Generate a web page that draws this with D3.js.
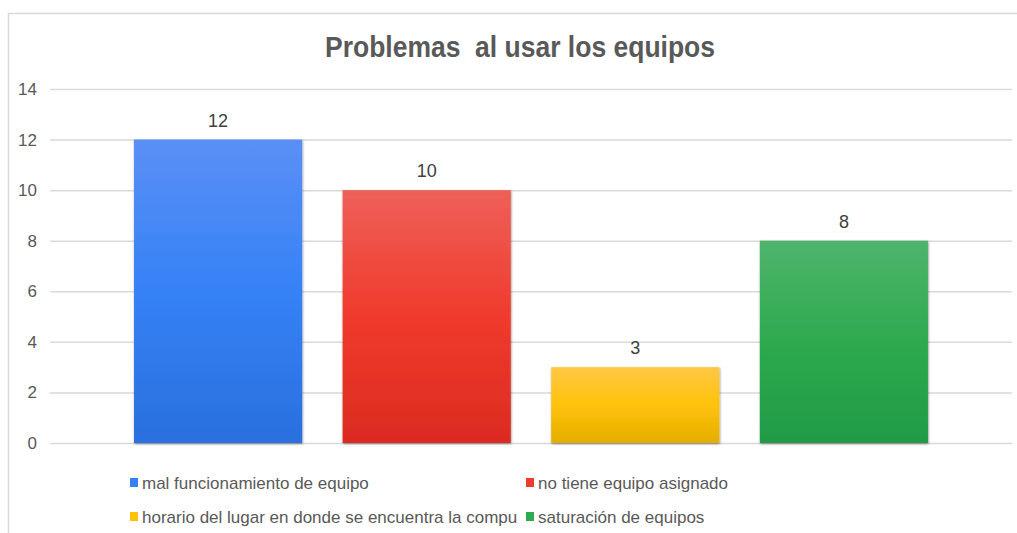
<!DOCTYPE html>
<html>
<head>
<meta charset="utf-8">
<script src="https://cdn.jsdelivr.net/npm/d3@7"></script>
<style>
  body { margin: 0; background: #fff; }
  text { font-family: "Liberation Sans", Arial, sans-serif; }
</style>
</head>
<body>
<div id="chart"></div>
<script>
// data
const categories = ["mal funcionamiento de equipo", "no tiene equipo asignado",
                    "horario del lugar en donde se encuentra la compu", "saturación de equipos"]
const values = [12, 10, 3, 8]
const yTicks = [0, 2, 4, 6, 8, 10, 12, 14]
// gradient stops per bar: top, middle, bottom
const barColors = [
    ["#5b8ff5", "#3582f6", "#2a6fde"],
    ["#ee6058", "#ef3b2d", "#dc2b20"],
    ["#ffc845", "#ffc20a", "#e4ad00"],
    ["#4fb46b", "#2eaa4f", "#229b47"]
]

const width = 1017
const height = 533

const svg = d3.select("#chart").append("svg")
    .attr("width", width)
    .attr("height", height)

const defs = svg.append("defs")
barColors.forEach((c, i) => {
    const g = defs.append("linearGradient")
        .attr("id", "grad" + i)
        .attr("x1", 0).attr("y1", 0).attr("x2", 0).attr("y2", 1)
    g.append("stop").attr("offset", "0%").attr("stop-color", c[0])
    g.append("stop").attr("offset", "50%").attr("stop-color", c[1])
    g.append("stop").attr("offset", "100%").attr("stop-color", c[2])
})
const shadow = defs.append("filter").attr("id", "shadow")
    .attr("x", "-10%").attr("y", "-10%").attr("width", "120%").attr("height", "120%")
shadow.append("feDropShadow")
    .attr("dx", 0.5).attr("dy", 1).attr("stdDeviation", 1.2)
    .attr("flood-color", "#000").attr("flood-opacity", 0.45)

// chart frame
svg.append("rect")
    .attr("x", 8.5).attr("y", 13.5)
    .attr("width", 1020).attr("height", 540)
    .attr("fill", "#fff")
    .attr("stroke", "#d9d9d9")
    .attr("stroke-width", 1.5)

// title (two spaces after the first word, as in the original)
svg.append("text")
    .attr("x", 325).attr("y", 57)
    .attr("textLength", 390)
    .attr("lengthAdjust", "spacingAndGlyphs")
    .style("font-size", "30px")
    .style("font-weight", "bold")
    .style("white-space", "pre")
    .attr("fill", "#595959")
    .text("Problemas  al usar los equipos")

const x = d3.scaleBand()
    .domain(categories)
    .range([114, 948])
    .paddingInner(0.194)
    .paddingOuter(0.096)

const y = d3.scaleLinear()
    .domain([0, 14])
    .range([443, 89])

// gridlines + y labels
const yAxis = svg.append("g")
    .attr("transform", "translate(50,0)")
    .call(d3.axisLeft(y).tickValues(yTicks).tickSize(-962).tickPadding(13))
yAxis.select(".domain").remove()
yAxis.selectAll(".tick line").attr("stroke", "#d9d9d9").attr("stroke-width", 1.5)
yAxis.selectAll(".tick text")
    .attr("fill", "#595959")
    .style("font-size", "17px")
    .style("font-family", "'Liberation Sans', Arial, sans-serif")

// bars
svg.selectAll("rect.bar")
    .data(values)
    .enter().append("rect")
    .attr("class", "bar")
    .attr("x", (d, i) => x(categories[i]))
    .attr("y", d => y(d))
    .attr("width", x.bandwidth())
    .attr("height", d => y(0) - y(d))
    .attr("fill", (d, i) => `url(#grad${i})`)
    .attr("filter", "url(#shadow)")

// data labels
svg.selectAll("text.val")
    .data(values)
    .enter().append("text")
    .attr("class", "val")
    .attr("x", (d, i) => x(categories[i]) + x.bandwidth() / 2)
    .attr("y", d => y(d) - 13)
    .attr("text-anchor", "middle")
    .attr("fill", "#404040")
    .style("font-size", "18px")
    .text(d => d)

// legend, two columns
const legendX = [130, 526]
const legendY = [483, 517]
const legend = svg.selectAll("g.leg")
    .data(categories)
    .enter().append("g")
    .attr("class", "leg")
    .attr("transform", (d, i) => `translate(${legendX[i % 2]},${legendY[Math.floor(i / 2)]})`)
legend.append("rect")
    .attr("x", 0).attr("y", -5)
    .attr("width", 8).attr("height", 9)
    .attr("fill", (d, i) => barColors[i][1])
legend.append("text")
    .attr("x", 12).attr("y", 0)
    .attr("dy", "0.35em")
    .attr("fill", "#595959")
    .style("font-size", "17px")
    .text(d => d)
</script>
</body>
</html>
